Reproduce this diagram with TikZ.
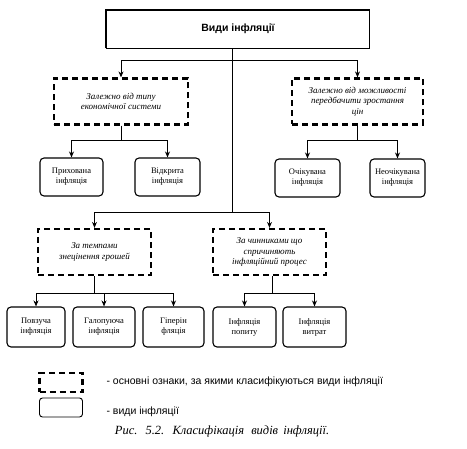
\documentclass[tikz,border=0pt]{standalone}
\usepackage{fontspec}
\setmainfont{Liberation Serif}
\newfontfamily\arialf{Liberation Sans}
\usetikzlibrary{arrows.meta}
\begin{document}
\begin{tikzpicture}[x=1pt,y=-1pt,
  crit/.style={draw,line width=2.2pt,dash pattern=on 6pt off 4pt,minimum width=#1,minimum height=46pt,align=center,font=\itshape\fontsize{9}{10.5}\selectfont,inner sep=1pt},
  kind/.style={draw,line width=1.1pt,rounded corners=4pt,minimum width=#1,minimum height=38pt,align=center,font=\fontsize{8.5}{10}\selectfont,inner sep=1pt},
  conn/.style={line width=0.9pt},
  arr/.style={line width=0.9pt,-{Stealth[length=6pt,width=5pt]}},
  legtext/.style={anchor=west,font=\arialf\fontsize{10.5}{12}\selectfont}]
\useasboundingbox (0,0) rectangle (467,449);
% top
\node[draw,line width=0.9pt,minimum width=263pt,minimum height=38pt,font=\arialf\bfseries\fontsize{10.5}{12}\selectfont] (top) at (238,29) {Види інфляції};
\draw[line width=2pt] (top.south west) |- (top.north east);
% level 1 criteria
\node[crit=134pt] (c1) at (121,101.5) {Залежно від типу\\економічної системи};
\node[crit=131pt] (c2) at (357.5,101.5) {Залежно від можливості\\передбачити зростання\\цін};
% level 2 criteria
\node[crit=113pt] (c3) at (94.5,252) {За темпами\\знецінення грошей};
\node[crit=113pt] (c4) at (269.5,252) {За чинниками що\\спричиняють\\інфляційний процес};
% kinds
\node[kind=63pt] (k1) at (71.5,177) {Прихована\\інфляція};
\node[kind=65pt] (k2) at (167.5,177) {Відкрита\\інфляція};
\node[kind=65pt] (k3) at (307.5,178) {Очікувана\\інфляція};
\node[kind=55pt] (k4) at (397.5,178) {Неочікувана\\інфляція};
\node[kind=58pt,minimum height=40pt] (k5) at (36,327) {Повзуча\\інфляція};
\node[kind=62pt,minimum height=40pt] (k6) at (104,327) {Галопуюча\\інфляція};
\node[kind=61pt,minimum height=40pt] (k7) at (173.5,327) {Гіперін\\фляція};
\node[kind=63pt,minimum height=40pt] (k8) at (244.5,327) {Інфляція\\попиту};
\node[kind=63pt,minimum height=40pt] (k9) at (314.5,327) {Інфляція\\витрат};
% connectors
\coordinate (j1) at (232,60);
\coordinate (j2) at (232,212);
\draw[conn] (top.south -| j1) -- (j2);
\draw[arr] (j1) -| (c1.north);
\draw[arr] (j1) -| (c2.north);
\draw[arr] (j2) -| (c3.north);
\draw[arr] (j2) -| (c4.north);
% children of c1
\coordinate (b1) at (121,140);
\draw[conn] (c1.south) -- (b1);
\draw[arr] (b1) -| (k1.north);
\draw[arr] (b1) -| (k2.north);
\coordinate (b2) at (357.5,140);
\draw[conn] (c2.south) -- (b2);
\draw[arr] (b2) -| (k3.north);
\draw[arr] (b2) -| (k4.north);
\coordinate (b3) at (94.5,293);
\draw[conn] (c3.south) -- (b3);
\draw[arr] (b3) -| (k5.north);
\draw[arr] (b3) -- (k6.north |- b3) -- (k6.north);
\draw[arr] (b3) -| (k7.north);
\coordinate (b4) at (272,293);
\draw[conn] (c4.south -| b4) -- (b4);
\draw[arr] (b4) -| (k8.north);
\draw[arr] (b4) -| (k9.north);
% legend
\node[draw,line width=2.2pt,dash pattern=on 6pt off 4pt,minimum width=43pt,minimum height=19pt] (l1) at (61,382.5) {};
\node[draw,line width=0.9pt,rounded corners=3pt,minimum width=43pt,minimum height=19pt] (l2) at (61,407.5) {};
\node[legtext] (t1) at (103,382) {- основні ознаки, за якими класифікуються види інфляції};
\node[legtext] (t2) at (103,412) {- види інфляції};
\node[font=\itshape\fontsize{12.5}{14}\selectfont] (cap) at (222,431) {Рис.\hspace{4pt} 5.2.\hspace{4pt} Класифікація\hspace{4pt} видів\hspace{2pt} інфляції.};
\end{tikzpicture}
\end{document}
